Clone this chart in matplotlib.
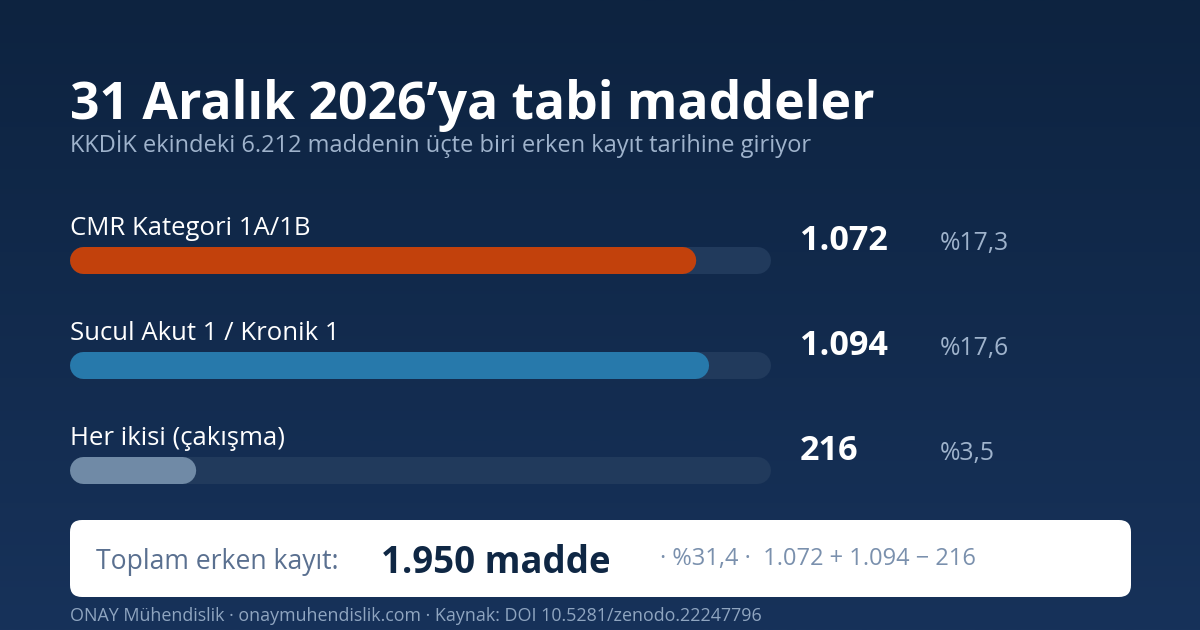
import matplotlib

matplotlib.use("Agg")
import matplotlib.pyplot as plt
import numpy as np
from matplotlib.colors import LinearSegmentedColormap
from matplotlib.patches import FancyBboxPatch

plt.rcParams["font.family"] = ["Open Sans", "Noto Sans", "DejaVu Sans"]

W, H = 1200, 630

categories = ["CMR Kategori 1A/1B", "Sucul Akut 1 / Kronik 1", "Her ikisi (çakışma)"]
values = [1072, 1094, 216]
value_labels = ["1.072", "1.094", "216"]
share_labels = ["%17,3", "%17,6", "%3,5"]
bar_colors = ["#c2410c", "#2779ab", "#708aa6"]
axis_max = 1200

title = "31 Aralık 2026’ya tabi maddeler"
subtitle = "KKDİK ekindeki 6.212 maddenin üçte biri erken kayıt tarihine giriyor"
total_label = "Toplam erken kayıt:"
total_value = "1.950 madde"
total_note = "· %31,4 ·  1.072 + 1.094 − 216"
footer = "ONAY Mühendislik · onaymuhendislik.com · Kaynak: DOI 10.5281/zenodo.22247796"

fig = plt.figure(figsize=(W / 100, H / 100), dpi=100)

# full figure axes in pixel coordinates, y pointing down
bg = fig.add_axes([0, 0, 1, 1])
bg.set_xlim(0, W)
bg.set_ylim(H, 0)
bg.axis("off")
cmap = LinearSegmentedColormap.from_list("bg", ["#0d2340", "#17325a"])
bg.imshow(np.linspace(0, 1, 256).reshape(-1, 1), cmap=cmap, aspect="auto", extent=[0, W, H, 0], zorder=0)

bg.text(70, 119, title, color="white", fontsize=37.2, fontweight="bold", va="baseline")
bg.text(70, 152.5, subtitle, color="#9fb3cc", fontsize=17.05, va="baseline")

# bars, x axis in data units
bar_left, bar_right = 70, 771
ax = fig.add_axes([bar_left / W, 0, (bar_right - bar_left) / W, 1])
ax.set_xlim(0, axis_max)
ax.set_ylim(H, 0)
ax.axis("off")
ax.patch.set_alpha(0)
px_x = axis_max / (bar_right - bar_left)
bar_h = 27
tops = [247, 352, 457]


def rounded_bar(axes, value, top, color):
    # round caps stick out by half the line width, so pull the ends in
    r = bar_h / 2 * px_x
    y = top + bar_h / 2
    axes.plot([r, value - r], [y, y], color=color, lw=bar_h * 0.72, solid_capstyle="round", snap=False)


for name, value, vlabel, slabel, color, top in zip(
    categories, values, value_labels, share_labels, bar_colors, tops
):
    rounded_bar(ax, axis_max, top, "#213a5c")
    rounded_bar(ax, value, top, color)
    bg.text(70, top - 12, name, color="white", fontsize=18.5, va="baseline")
    bg.text(800, top + 3, vlabel, color="white", fontsize=24.6, fontweight="bold", va="baseline")
    bg.text(940, top + 3, slabel, color="#9fb3cc", fontsize=17.8, va="baseline")

# total panel
panel = FancyBboxPatch(
    (82, 532),
    1037,
    53,
    boxstyle="round,pad=12,rounding_size=12",
    facecolor="white",
    edgecolor="none",
    zorder=2,
)
bg.add_patch(panel)
bg.text(96, 569, total_label, color="#5a7090", fontsize=19.1, va="baseline", zorder=3)
bg.text(381, 573, total_value, color="#0f2744", fontsize=26.4, fontweight="bold", va="baseline", zorder=3)
bg.text(660, 565, total_note, color="#7a90ad", fontsize=17, va="baseline", zorder=3)

bg.text(70, 621, footer, color="#8fa5c0", fontsize=12.85, va="baseline")

fig.savefig("out.png", dpi=100)
